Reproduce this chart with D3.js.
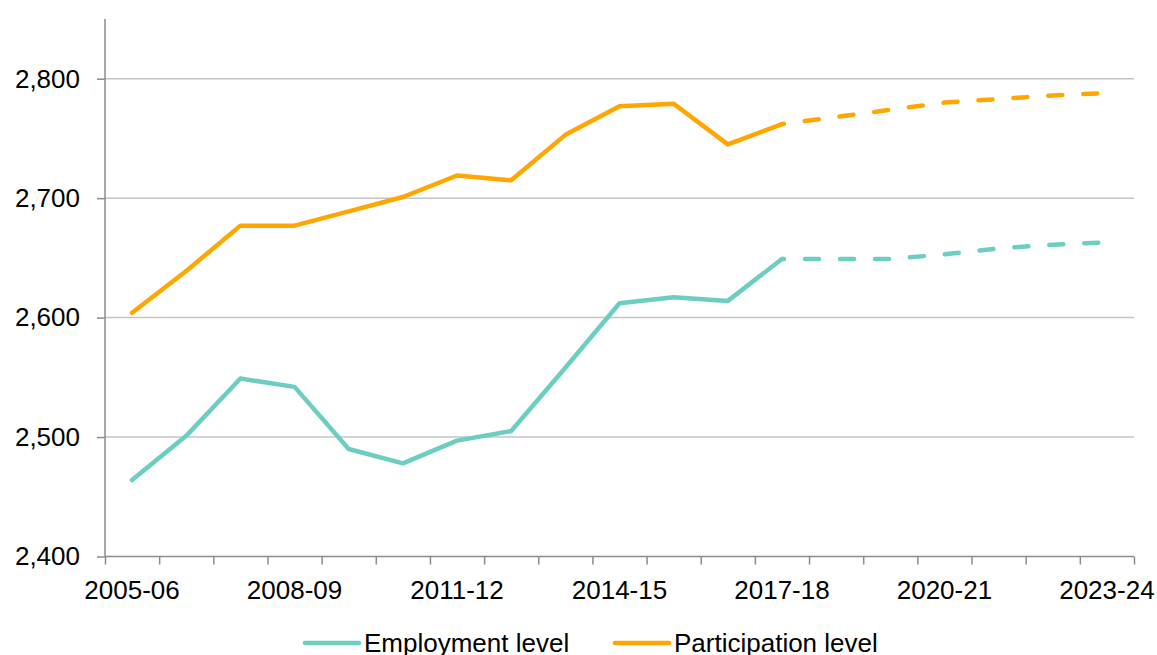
<!DOCTYPE html>
<html>
<head>
<meta charset="utf-8">
<script src="https://cdn.jsdelivr.net/npm/d3@7"></script>
<style>
  html, body { margin: 0; padding: 0; background: #fff; }
  svg { display: block; font-family: "Liberation Sans", Arial, sans-serif; }
</style>
</head>
<body>
<svg id="chart" width="1157" height="655"></svg>
<script>
// Financial years on the x axis
const years = ["2005-06","2006-07","2007-08","2008-09","2009-10","2010-11","2011-12",
  "2012-13","2013-14","2014-15","2015-16","2016-17","2017-18","2018-19","2019-20",
  "2020-21","2021-22","2022-23","2023-24"];

// Recorded levels, 2005-06 to 2017-18
const employmentActual = [2464, 2501, 2549, 2542, 2490, 2478, 2497, 2505, 2558, 2612, 2617, 2614, 2649];
const participationActual = [2604, 2639, 2677, 2677, 2689, 2701, 2719, 2715, 2753, 2777, 2779, 2745, 2762];

// Projected levels, 2017-18 to 2023-24
const forecastYears = ["2017-18","2018-19","2019-20","2020-21","2021-22","2022-23","2023-24"];
const employmentForecast = [2649, 2649, 2649, 2653, 2658, 2661, 2663];
const participationForecast = [2762, 2768, 2774, 2780, 2783, 2786, 2788];

// Axis ticks and labels
const yTicks = [2400, 2500, 2600, 2700, 2800];
const xLabelYears = ["2005-06","2008-09","2011-12","2014-15","2017-18","2020-21","2023-24"];

const seriesNames = ["Employment level", "Participation level"];
const colors = { employment: "#6ccdc1", participation: "#ffa600" };

const svg = d3.select("#chart");
const plotLeft = 105, plotRight = 1134, plotTop = 19, plotBottom = 556.5;

const x = d3.scalePoint().domain(years).range([plotLeft, plotRight]).padding(0.5);
const xEdges = d3.scaleLinear().domain([0, years.length]).range([plotLeft, plotRight]);
const y = d3.scaleLinear().domain([2400, 2850]).range([plotBottom, plotTop]);

// Horizontal gridlines
svg.append("g")
  .selectAll("line")
  .data(yTicks.filter(v => v !== 2400))
  .join("line")
  .attr("x1", plotLeft).attr("x2", plotRight)
  .attr("y1", d => y(d)).attr("y2", d => y(d))
  .attr("stroke", "#c4c4c4").attr("stroke-width", 1.5);

// Y axis
const yAxis = svg.append("g")
  .attr("transform", `translate(${plotLeft},0)`)
  .call(d3.axisLeft(y).tickValues(yTicks).tickSize(8).tickPadding(17)
    .tickFormat(d3.format(",")));
yAxis.select(".domain").attr("stroke", "#8c8c8c").attr("stroke-width", 1.5)
  .attr("d", `M0,${plotTop}V${plotBottom}`);
yAxis.selectAll(".tick line").attr("stroke", "#8c8c8c").attr("stroke-width", 1.5);
yAxis.selectAll(".tick text").attr("font-size", 26).attr("fill", "#000")
  .attr("font-family", "Liberation Sans, Arial, sans-serif");

// X axis: ticks on category boundaries
const xAxis = svg.append("g")
  .attr("transform", `translate(0,${plotBottom})`)
  .call(d3.axisBottom(xEdges).tickValues(d3.range(years.length + 1)).tickSize(8)
    .tickFormat(""));
xAxis.select(".domain").attr("stroke", "#8c8c8c").attr("stroke-width", 1.5)
  .attr("d", `M${plotLeft},0H${plotRight}`);
xAxis.selectAll(".tick line").attr("stroke", "#8c8c8c").attr("stroke-width", 1.5);

// Category labels every third year
svg.append("g")
  .selectAll("text")
  .data(xLabelYears)
  .join("text")
  .attr("x", d => x(d))
  .attr("y", 599)
  .attr("text-anchor", "middle")
  .attr("font-size", 26)
  .attr("fill", "#000")
  .text(d => d);

const line = d3.line().x(d => x(d.year)).y(d => y(d.value));
const pair = (ys, vs) => ys.map((yr, i) => ({ year: yr, value: vs[i] }));
const actualYears = years.slice(0, employmentActual.length);

function drawSeries(actual, forecast, color) {
  svg.append("path")
    .datum(pair(actualYears, actual))
    .attr("d", line)
    .attr("fill", "none")
    .attr("stroke", color)
    .attr("stroke-width", 4.5)
    .attr("stroke-linejoin", "round")
    .attr("stroke-linecap", "round");
  svg.append("path")
    .datum(pair(forecastYears, forecast))
    .attr("d", line)
    .attr("fill", "none")
    .attr("stroke", color)
    .attr("stroke-width", 4.5)
    .attr("stroke-linecap", "round")
    .attr("stroke-dasharray", "14,21")
    .attr("stroke-dashoffset", 12);
}

drawSeries(employmentActual, employmentForecast, colors.employment);
drawSeries(participationActual, participationForecast, colors.participation);

// Legend
const legendItems = [
  { name: seriesNames[0], color: colors.employment, x: 305 },
  { name: seriesNames[1], color: colors.participation, x: 615 }
];
const lg = svg.append("g").selectAll("g").data(legendItems).join("g")
  .attr("transform", d => `translate(${d.x},643)`);
lg.append("line")
  .attr("x1", 0).attr("x2", 54).attr("y1", 0).attr("y2", 0)
  .attr("stroke", d => d.color).attr("stroke-width", 4.5).attr("stroke-linecap", "round");
lg.append("text")
  .attr("x", 59).attr("y", 8.6)
  .attr("font-size", 26).attr("fill", "#000")
  .text(d => d.name);
</script>
</body>
</html>
